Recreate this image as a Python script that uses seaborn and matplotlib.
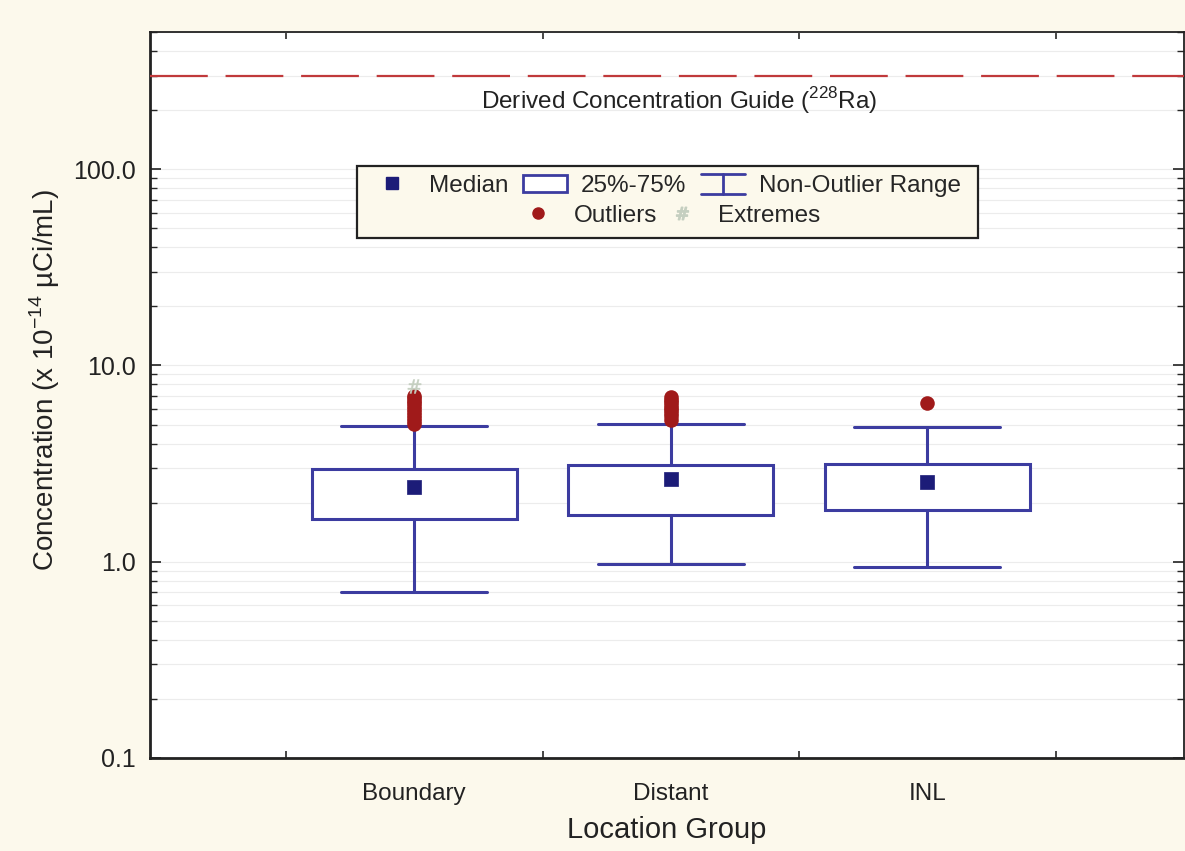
import numpy as np
import pandas as pd
import matplotlib
matplotlib.use("Agg")
import matplotlib.pyplot as plt
import seaborn as sns
from matplotlib.lines import Line2D
from matplotlib.patches import Rectangle
from matplotlib.legend_handler import HandlerBase
from matplotlib.ticker import FixedLocator, LogLocator, NullFormatter


GROUPS = ["Boundary", "Distant", "INL"]
Q1 = [1.66, 1.74, 1.84]
MEDIANS = [2.41, 2.65, 2.56]
Q3 = [2.98, 3.12, 3.16]
WHISK_LO = [0.70, 0.97, 0.94]
WHISK_HI = [4.94, 5.06, 4.83]

OUTLIERS_BOUNDARY = [5.05, 5.2, 5.4, 5.6, 5.8, 6.0, 6.2, 6.4, 6.6, 6.8, 7.0]
OUTLIERS_DISTANT = [5.3, 5.5, 5.7, 5.9, 6.1, 6.3, 6.5, 6.7, 6.9]
OUTLIERS_INL = [6.4]
EXTREMES_BOUNDARY = [7.9]

DCG_VALUE = 300.0
DCG_LABEL = "Derived Concentration Guide ($^{\\mathregular{228}}$Ra)"

Y_TICKS = [0.1, 1.0, 10.0, 100.0]
Y_TICK_LABELS = ["0.1", "1.0", "10.0", "100.0"]

BOX_COLOR = "#3c3ca0"
MEDIAN_COLOR = "#1c1c78"
OUTLIER_COLOR = "#a01a1a"
EXTREME_COLOR = "#c5cfc0"
DCG_COLOR = "#c0393b"
BG_COLOR = "#fcf9ec"
TEXT_COLOR = "#222222"


class WhiskerHandler(HandlerBase):
    # draws the "I" shaped symbol used for the non-outlier range
    def create_artists(self, legend, orig_handle, xdescent, ydescent,
                       width, height, fontsize, trans):
        c = orig_handle.get_color()
        lw = orig_handle.get_linewidth()
        x0 = -xdescent
        x1 = x0 + width
        xm = (x0 + x1) / 2
        y0 = -ydescent - 0.1 * height
        y1 = -ydescent + 1.05 * height
        lines = [
            Line2D([x0, x1], [y1, y1], color=c, lw=lw),
            Line2D([xm, xm], [y0, y1], color=c, lw=lw),
            Line2D([x0, x1], [y0, y0], color=c, lw=lw),
        ]
        for ln in lines:
            ln.set_transform(trans)
        return lines


sns.set_theme(style="white")
plt.rcParams["font.family"] = ["Liberation Sans", "DejaVu Sans"]

fig = plt.figure(figsize=(11.85, 8.51), dpi=100, facecolor=BG_COLOR)
ax = fig.add_axes([0.1266, 0.1093, 0.8725, 0.8531])
ax.set_facecolor("white")

positions = np.arange(len(GROUPS))

stats = []
for i, g in enumerate(GROUPS):
    stats.append({
        "label": g,
        "q1": Q1[i],
        "med": MEDIANS[i],
        "q3": Q3[i],
        "whislo": WHISK_LO[i],
        "whishi": WHISK_HI[i],
        "fliers": [],
    })

ax.bxp(
    stats,
    positions=positions,
    widths=0.8,
    capwidths=0.57,
    showfliers=False,
    patch_artist=True,
    boxprops=dict(facecolor="white", edgecolor=BOX_COLOR, linewidth=2.2),
    whiskerprops=dict(color=BOX_COLOR, linewidth=2.2),
    capprops=dict(color=BOX_COLOR, linewidth=2.2),
    medianprops=dict(linewidth=0),
    zorder=3,
)

median_df = pd.DataFrame({"pos": positions, "value": MEDIANS})
sns.scatterplot(data=median_df, x="pos", y="value", marker="s", s=90,
                color=MEDIAN_COLOR, edgecolor=MEDIAN_COLOR, linewidth=0.5,
                zorder=5, ax=ax)

out_pos = ([0] * len(OUTLIERS_BOUNDARY) + [1] * len(OUTLIERS_DISTANT)
           + [2] * len(OUTLIERS_INL))
out_val = OUTLIERS_BOUNDARY + OUTLIERS_DISTANT + OUTLIERS_INL
outlier_df = pd.DataFrame({"pos": out_pos, "value": out_val})
sns.scatterplot(data=outlier_df, x="pos", y="value", marker="o", s=110,
                color=OUTLIER_COLOR, edgecolor=OUTLIER_COLOR, linewidth=0,
                zorder=6, ax=ax)

extreme_df = pd.DataFrame({"pos": [0] * len(EXTREMES_BOUNDARY),
                           "value": EXTREMES_BOUNDARY})
sns.scatterplot(data=extreme_df, x="pos", y="value", marker="$\\#$", s=100,
                color=EXTREME_COLOR, edgecolor=EXTREME_COLOR, linewidth=0.3,
                zorder=6, ax=ax)

ax.axhline(DCG_VALUE, color=DCG_COLOR, lw=1.6, linestyle=(0, (26, 8)),
           zorder=4)
ax.text(0.512, 225, DCG_LABEL, transform=ax.get_yaxis_transform(),
        ha="center", va="center", fontsize=17.5, color=TEXT_COLOR)

ax.set_yscale("log")
ax.set_ylim(0.1, 500)
ax.set_xlim(-1.03, 3.0)

ax.yaxis.set_major_locator(FixedLocator(Y_TICKS))
ax.set_yticklabels(Y_TICK_LABELS)
ax.yaxis.set_minor_locator(LogLocator(base=10, subs=np.arange(2, 10)))
ax.yaxis.set_minor_formatter(NullFormatter())
ax.yaxis.grid(True, which="both", color="#ececec", linewidth=0.8, zorder=0)
ax.xaxis.grid(False)

ax.set_xticks(positions)
ax.set_xticklabels(GROUPS)
ax.set_xticks([-0.5, 0.5, 1.5, 2.5], minor=True)

ax.tick_params(axis="y", which="major", direction="in", length=8, width=1.2,
               left=True, right=True, labelsize=18, colors=TEXT_COLOR, pad=10)
ax.tick_params(axis="y", which="minor", direction="in", length=5, width=1.0,
               left=True, right=True)
ax.tick_params(axis="x", which="major", length=0, labelsize=17.5, pad=18,
               colors=TEXT_COLOR)
ax.tick_params(axis="x", which="minor", direction="in", length=5, width=1.2,
               bottom=True, top=True)

for side, sp in ax.spines.items():
    sp.set_visible(True)
    sp.set_color(TEXT_COLOR)
    sp.set_linewidth(2.0 if side in ("left", "bottom") else 1.3)

ax.set_xlabel("Location Group", fontsize=21, color=TEXT_COLOR, labelpad=8)
ax.set_ylabel("Concentration (x 10$^{\\mathregular{-14}}$ \u00b5Ci/mL)",
              fontsize=20, color=TEXT_COLOR)
ax.yaxis.set_label_coords(-0.085, 0.52)

h_median = Line2D([], [], marker="s", linestyle="none", markersize=8,
                  color=MEDIAN_COLOR)
h_box = Rectangle((0, 0), 1, 1, facecolor="white", edgecolor=BOX_COLOR,
                  linewidth=2)
h_whisk = Line2D([], [], color=BOX_COLOR, linewidth=2)
h_out = Line2D([], [], marker="o", linestyle="none", markersize=8,
               color=OUTLIER_COLOR)
h_ext = Line2D([], [], marker="$\\#$", linestyle="none", markersize=9,
               color=EXTREME_COLOR)

# legend frame drawn separately so that the two rows can be laid out apart
frame = Rectangle((0.2002, 0.716), 0.6006, 0.099, transform=ax.transAxes,
                  facecolor=BG_COLOR, edgecolor=TEXT_COLOR, linewidth=1.6,
                  zorder=6.5)
ax.add_patch(frame)

leg_kw = dict(fontsize=17.5, frameon=False, handlelength=1.8,
              handletextpad=0.6, borderpad=0.0, loc="center")

leg1 = ax.legend(
    [h_median, h_box, h_whisk],
    ["Median", "25%-75%", "Non-Outlier Range"],
    handler_map={h_whisk: WhiskerHandler()},
    ncol=3, columnspacing=0.6, bbox_to_anchor=(0.499, 0.788), **leg_kw,
)
leg1.set_zorder(7)
ax.add_artist(leg1)

leg2 = ax.legend(
    [h_out, h_ext],
    ["Outliers", "Extremes"],
    ncol=2, columnspacing=0.1, bbox_to_anchor=(0.501, 0.7466), **leg_kw,
)
leg2.set_zorder(7)

fig.savefig("out.png", dpi=100, facecolor=BG_COLOR)
